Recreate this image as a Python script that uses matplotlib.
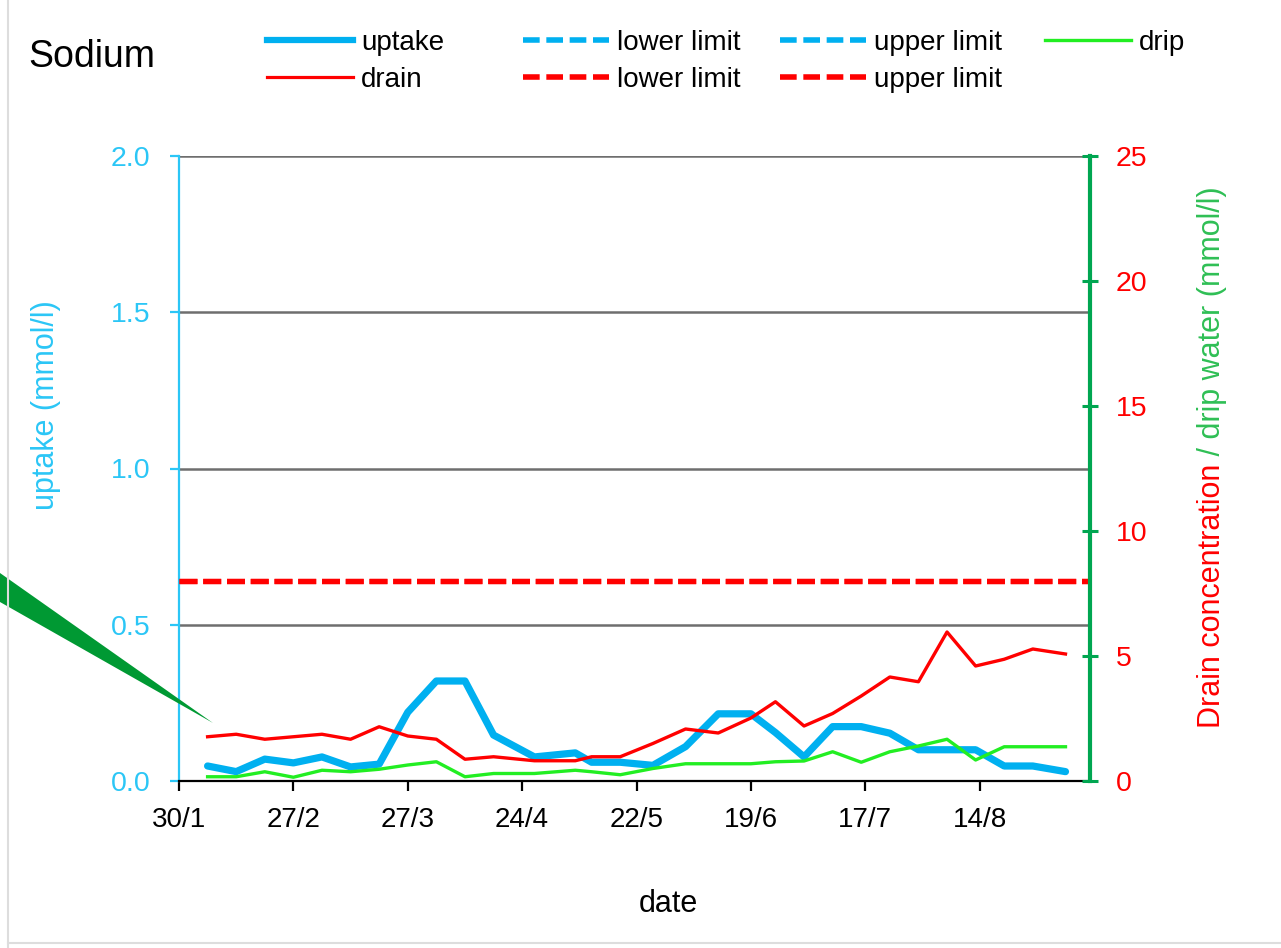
import numpy as np
import matplotlib.pyplot as plt
from matplotlib.lines import Line2D
from matplotlib.patches import Polygon

plt.rcParams['font.family'] = ['Liberation Sans', 'DejaVu Sans']

############## DATA ##############

# sampling moments, in days after 30/1
days = [7, 14, 21, 28, 35, 42, 49, 56, 63, 70,
        77, 87, 97, 101, 108, 116, 124, 132, 140, 146,
        153, 160, 167, 174, 181, 188, 195, 202, 209, 217]

# uptake concentration (mmol/l), left axis
uptake = [0.048, 0.03, 0.07, 0.058, 0.077, 0.045, 0.054, 0.22, 0.32, 0.32,
          0.147, 0.077, 0.09, 0.06, 0.06, 0.05, 0.11, 0.215, 0.215, 0.155,
          0.077, 0.174, 0.174, 0.153, 0.1, 0.1, 0.1, 0.048, 0.048, 0.03]

# drain and drip water concentration (mmol/l), right axis
drain = [1.77, 1.87, 1.67, 1.77, 1.87, 1.67, 2.17, 1.8, 1.67, 0.87,
         0.97, 0.81, 0.81, 0.97, 0.97, 1.5, 2.08, 1.92, 2.52, 3.17,
         2.2, 2.7, 3.4, 4.16, 3.97, 5.96, 4.6, 4.87, 5.28, 5.08]
drip = [0.17, 0.17, 0.37, 0.15, 0.43, 0.37, 0.47, 0.64, 0.77, 0.17,
        0.3, 0.3, 0.43, 0.37, 0.25, 0.5, 0.69, 0.69, 0.69, 0.77,
        0.8, 1.17, 0.75, 1.17, 1.4, 1.67, 0.84, 1.37, 1.37, 1.37]

drain_lower = 8.0
drain_upper = 8.0

tick_days = [0, 28, 56, 84, 112, 140, 168, 196]
tick_labels = ['30/1', '27/2', '27/3', '24/4', '22/5', '19/6', '17/7', '14/8']
left_ticks = [0.0, 0.5, 1.0, 1.5, 2.0]
right_ticks = [0, 5, 10, 15, 20, 25]

##################################

BLUE = '#00b0f0'
CYAN = '#2bc6f6'
RED = '#ff0000'
GREEN = '#22ee22'
DKGREEN = '#00a651'
LBLGREEN = '#2fbf55'

W, H = 1281, 948


def px(x, y):
    """pixel position (from top-left) -> figure fraction"""
    return (x / W, 1 - y / H)


fig = plt.figure(figsize=(W / 100, H / 100), dpi=100)
ax1 = fig.add_axes([179 / W, 167 / H, 911 / W, 625 / H])
ax2 = ax1.twinx()

# left axis: uptake
ax1.plot(days, uptake, color=BLUE, lw=5.2, solid_joinstyle='round', solid_capstyle='round', zorder=3)
ax1.set_xlim(0, 223)
ax1.set_ylim(0, 2.0)
ax1.set_yticks(left_ticks)
ax1.set_yticklabels(['%.1f' % v for v in left_ticks])
ax1.set_xticks(tick_days)
ax1.set_xticklabels(tick_labels)
ax1.yaxis.grid(True, color='#6e6e6e', lw=1.8)
ax1.set_axisbelow(True)

for s in ['top', 'right']:
    ax1.spines[s].set_visible(False)
ax1.spines['left'].set_color(CYAN)
ax1.spines['left'].set_linewidth(1.6)
ax1.spines['bottom'].set_color('black')
ax1.spines['bottom'].set_linewidth(1.6)
ax1.spines['bottom'].set_zorder(4)

ax1.tick_params(axis='y', direction='out', length=6.5, width=1.6, color=CYAN,
                labelcolor=CYAN, labelsize=20.5, pad=14)
ax1.tick_params(axis='x', direction='out', length=7, width=1.6, color='black',
                labelcolor='black', labelsize=20, pad=12)

# right axis: drain and drip
ax2.plot(days, drain, color=RED, lw=2.4, solid_joinstyle='round', zorder=3)
ax2.plot(days, drip, color=GREEN, lw=2.4, solid_joinstyle='round', zorder=3)
for lim in [drain_lower, drain_upper]:
    ax2.axhline(lim, color=RED, lw=3.8, ls=(0, (3.4, 1.1)))
ax2.set_ylim(0, 25)
ax2.set_yticks(right_ticks)
for s in ['top', 'left', 'bottom']:
    ax2.spines[s].set_visible(False)
ax2.spines['right'].set_color(DKGREEN)
ax2.spines['right'].set_linewidth(3)
ax2.tick_params(axis='y', direction='inout', length=11.5, width=2.2, color=DKGREEN,
                labelcolor=RED, labelsize=20.5, pad=13)

# axis titles
fig.text(*px(46, 405), 'uptake (mmol/l)', rotation=90, ha='center', va='center',
         color=CYAN, fontsize=22)
t_red = fig.text(*px(1212, 728), 'Drain concentration', rotation=90, ha='center',
                 va='bottom', color=RED, fontsize=22)
fig.add_artist(plt.Annotation(' / drip water (mmol/l)', xy=(0.5, 1), xycoords=t_red,
                              rotation=90, ha='center', va='bottom', color=LBLGREEN,
                              fontsize=22, annotation_clip=False))
fig.text(*px(668, 912), 'date', ha='center', va='baseline', fontsize=22)
fig.text(*px(28, 67), 'Sodium', ha='left', va='baseline', fontsize=27)

# legend, laid out in four columns like the original
h_uptake = Line2D([], [], color=BLUE, lw=4.5)
h_drain = Line2D([], [], color=RED, lw=2.3)
h_blo = Line2D([], [], color=BLUE, lw=4.0, ls=(0, (3.0, 1.2)))
h_bup = Line2D([], [], color=BLUE, lw=4.0, ls=(0, (3.0, 1.2)))
h_rlo = Line2D([], [], color=RED, lw=4.0, ls=(0, (3.0, 1.2)))
h_rup = Line2D([], [], color=RED, lw=4.0, ls=(0, (3.0, 1.2)))
h_drip = Line2D([], [], color=GREEN, lw=2.4)

columns = [([h_uptake, h_drain], ['uptake', 'drain']),
           ([h_blo, h_rlo], ['lower limit', 'lower limit']),
           ([h_bup, h_rup], ['upper limit', 'upper limit']),
           ([h_drip], ['drip'])]
col_x = [267, 523, 780, 1045]
for x, (hs, ls) in zip(col_x, columns):
    fig.legend(hs, ls, loc='upper left', bbox_to_anchor=px(x, 30), frameon=False,
               fontsize=20, handlelength=3.1, handletextpad=0.28, labelspacing=0.4,
               borderpad=0, borderaxespad=0)

# green pointer shape on the left
fig.add_artist(Polygon([px(0, 573), px(0, 602), px(213, 723)], closed=True,
                       transform=fig.transFigure, facecolor='#009933', edgecolor='none'))

# light frame of the original picture
fig.add_artist(Line2D([7.5 / W, 7.5 / W], [0, 1], transform=fig.transFigure, color='#dddddd', lw=1.5))
fig.add_artist(Line2D([7.5 / W, 1], [1 - 943 / H, 1 - 943 / H], transform=fig.transFigure, color='#dddddd', lw=1.5))

fig.savefig('out.png', dpi=100)
